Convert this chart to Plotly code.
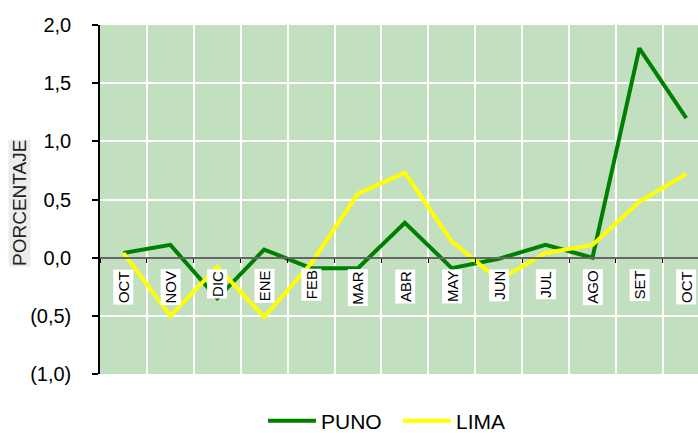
import plotly.graph_objects as go

months = ["OCT", "NOV", "DIC", "ENE", "FEB", "MAR", "ABR", "MAY", "JUN", "JUL", "AGO", "SET", "OCT"]
puno = [0.04, 0.11, -0.35, 0.07, -0.09, -0.09, 0.30, -0.09, -0.01, 0.11, 0.00, 1.80, 1.20]
lima = [0.04, -0.50, -0.08, -0.51, -0.05, 0.55, 0.73, 0.14, -0.19, 0.04, 0.11, 0.48, 0.72]
ytick_vals = [-1.0, -0.5, 0.0, 0.5, 1.0, 1.5, 2.0]
ytick_text = ["(1,0)", "(0,5)", "0,0", "0,5", "1,0", "1,5", "2,0"]

xs = list(range(len(months)))
FONT = "Liberation Sans, Arial, sans-serif"

fig = go.Figure()
fig.add_trace(go.Scatter(x=xs, y=puno, mode="lines", name="PUNO",
                         line=dict(color="#008000", width=4)))
fig.add_trace(go.Scatter(x=xs, y=lima, mode="lines", name="LIMA",
                         line=dict(color="#ffff00", width=4)))

for i, m in enumerate(months):
    fig.add_annotation(x=i, y=0, xref="x", yref="y", text=m, showarrow=False,
                       textangle=-90, yanchor="top", xanchor="center", yshift=-11,
                       bgcolor="white", borderpad=1,
                       font=dict(family=FONT, size=15, color="black"))

fig.add_annotation(x=(19 - 100) / 598, y=(374 - 203) / 349, xref="paper", yref="paper",
                   text="PORCENTAJE", showarrow=False, textangle=-90,
                   xanchor="center", yanchor="middle",
                   bgcolor="#ececec", borderpad=0,
                   font=dict(family=FONT, size=19, color="#222"))

boundaries = [i - 0.5 for i in range(len(months) + 1)]

fig.update_layout(
    width=698, height=433,
    margin=dict(l=100, r=0, t=25, b=59, autoexpand=False),
    paper_bgcolor="white",
    plot_bgcolor="#c2dfc0",
    font=dict(family=FONT, size=20, color="black"),
    showlegend=True,
    legend=dict(orientation="h", x=(263 - 100) / 598, y=(374 - 421) / 349,
                xanchor="left", yanchor="middle",
                font=dict(family=FONT, size=21, color="black"),
                bgcolor="rgba(0,0,0,0)", itemwidth=48, entrywidth=72,
                tracegroupgap=0),
    xaxis=dict(range=[-0.5, 12.25], tickmode="array", tickvals=boundaries,
               showticklabels=False, ticks="outside", ticklen=4, tickwidth=1,
               tickcolor="black", showgrid=True, gridcolor="white", gridwidth=2,
               showline=True, linecolor="#666666", linewidth=2, automargin=False,
               anchor="free", position=1/3, zeroline=False, fixedrange=True),
    yaxis=dict(range=[-1, 2], tickmode="array", tickvals=ytick_vals, ticktext=ytick_text,
               showgrid=True, gridcolor="white", gridwidth=2, automargin=False,
               zeroline=False, showline=True, linecolor="black", linewidth=1.5,
               ticks="outside", ticklen=6, tickcolor="black", tickwidth=1.5,
               ticklabelstandoff=17, tickfont=dict(family=FONT, size=20, color="black")),
)

fig.write_html("out.html", config={"displayModeBar": False},
               post_script="document.body.style.margin='0';document.body.style.overflow='hidden';")
